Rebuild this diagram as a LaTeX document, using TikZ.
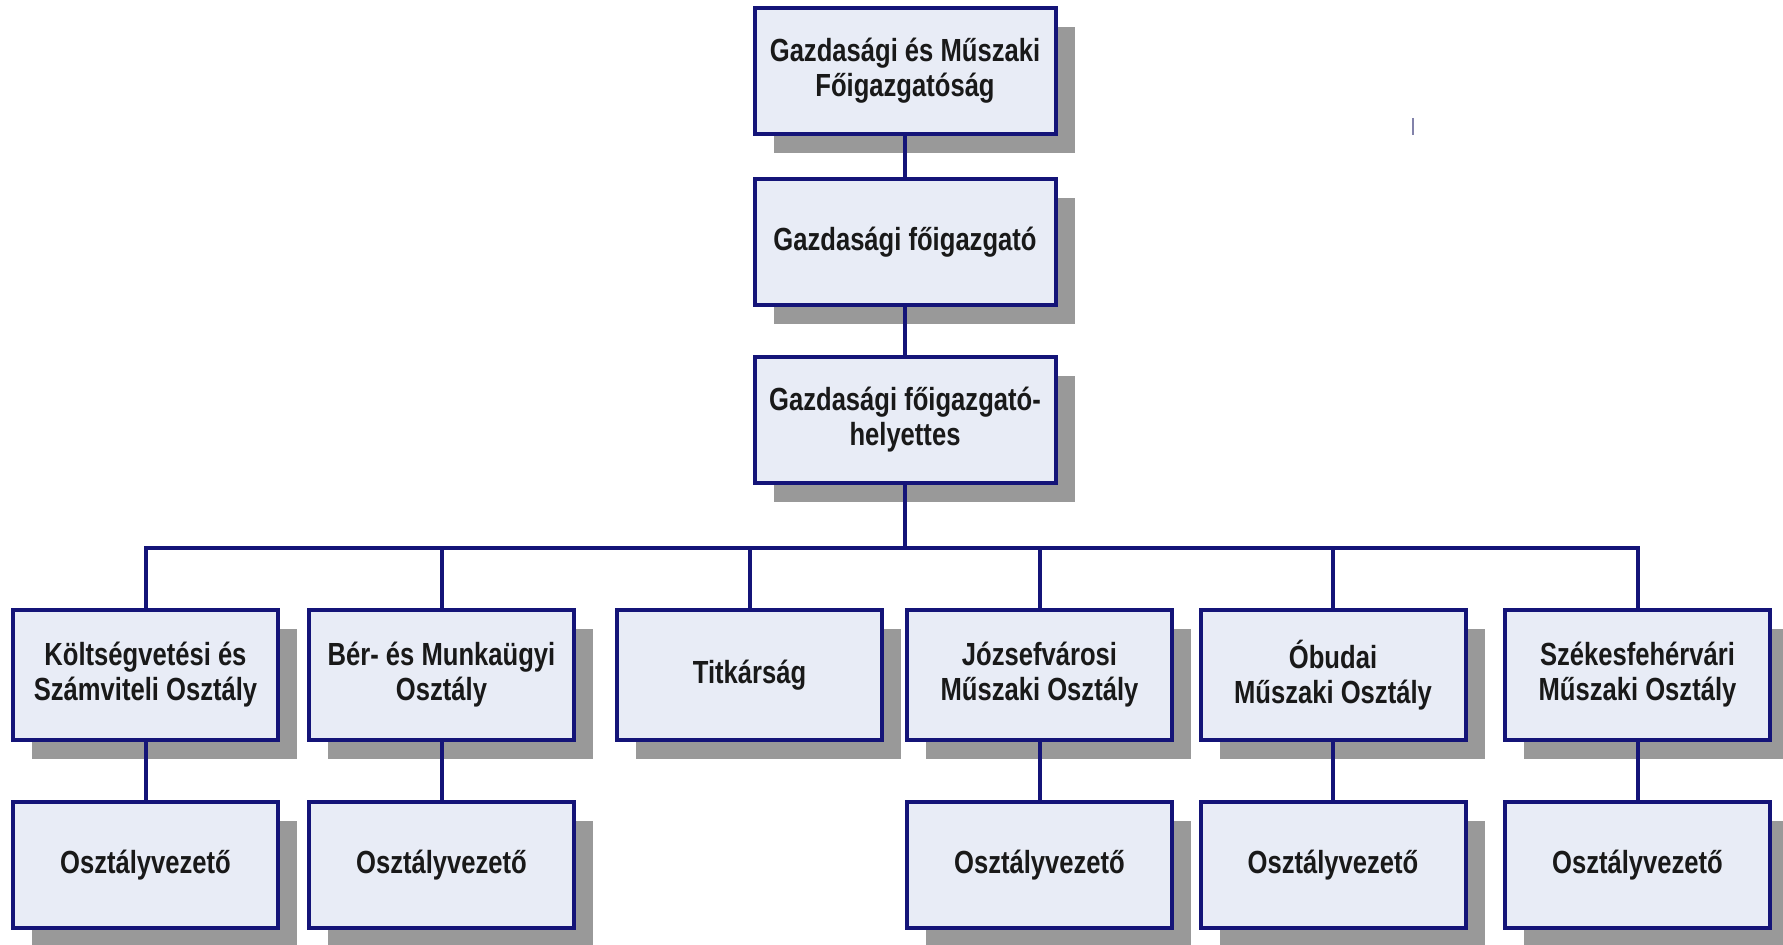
\documentclass[tikz,border=0pt]{standalone}
\usepackage{fontspec}
\setmainfont{Liberation Sans}[FakeStretch=0.8]
\usetikzlibrary{shadows}
\definecolor{boxfill}{RGB}{232,236,246}
\definecolor{navy}{RGB}{20,20,120}
\definecolor{shadowgray}{RGB}{153,153,153}
\definecolor{markcol}{RGB}{130,130,170}
\tikzset{
  orgbox/.style={draw=navy, line width=2pt, fill=boxfill, align=center,
    font=\fontsize{16}{17.5}\selectfont\bfseries, text=black!90,
    inner sep=0pt,
    general shadow={fill=shadowgray, shadow xshift=9.5pt, shadow yshift=-9.5pt}},
  topbox/.style={orgbox, minimum width=150.5pt, minimum height=63pt},
  deptbox/.style={orgbox, minimum width=132.5pt, minimum height=65pt},
  headbox/.style={orgbox, minimum width=132.5pt, minimum height=63pt},
  link/.style={draw=navy, line width=2pt}
}
\begin{document}
\begin{tikzpicture}[x=0.5pt,y=-0.5pt]
\useasboundingbox (0,0) rectangle (1783,945);
\node[topbox] (A) at (905,71) {Gazdasági és Műszaki\\Főigazgatóság};
\node[topbox] (B) at (905,242) {Gazdasági főigazgató};
\node[topbox] (C) at (905,420) {Gazdasági főigazgató-\\helyettes};
\node[deptbox] (d1) at (145.5,675) {Költségvetési és\\Számviteli Osztály};
\node[deptbox] (d2) at (441.5,675) {Bér- és Munkaügyi\\Osztály};
\node[deptbox] (d3) at (749.5,675) {Titkárság};
\node[deptbox] (d4) at (1039.5,675) {Józsefvárosi\\Műszaki Osztály};
\node[deptbox] (d5) at (1333,675) {Óbudai\\Műszaki Osztály};
\node[deptbox] (d6) at (1637.5,675) {Székesfehérvári\\Műszaki Osztály};
\node[headbox] (h1) at (145.5,865) {Osztályvezető};
\node[headbox] (h2) at (441.5,865) {Osztályvezető};
\node[headbox] (h4) at (1039.5,865) {Osztályvezető};
\node[headbox] (h5) at (1333,865) {Osztályvezető};
\node[headbox] (h6) at (1637.5,865) {Osztályvezető};
\coordinate (bar) at (905,548);
\draw[link] (A.south) -- (B.north);
\draw[link] (B.south) -- (C.north);
\draw[link] (C.south) -- (bar);
\foreach \d in {d1,d2,d3,d4,d5,d6} { \draw[link] (bar) -| (\d.north); }
\foreach \d/\h in {d1/h1,d2/h2,d4/h4,d5/h5,d6/h6} { \draw[link] (\d.south) -- (\h.north); }
\draw[markcol, line width=1pt] (1413,118) -- (1413,135);
\end{tikzpicture}
\end{document}
